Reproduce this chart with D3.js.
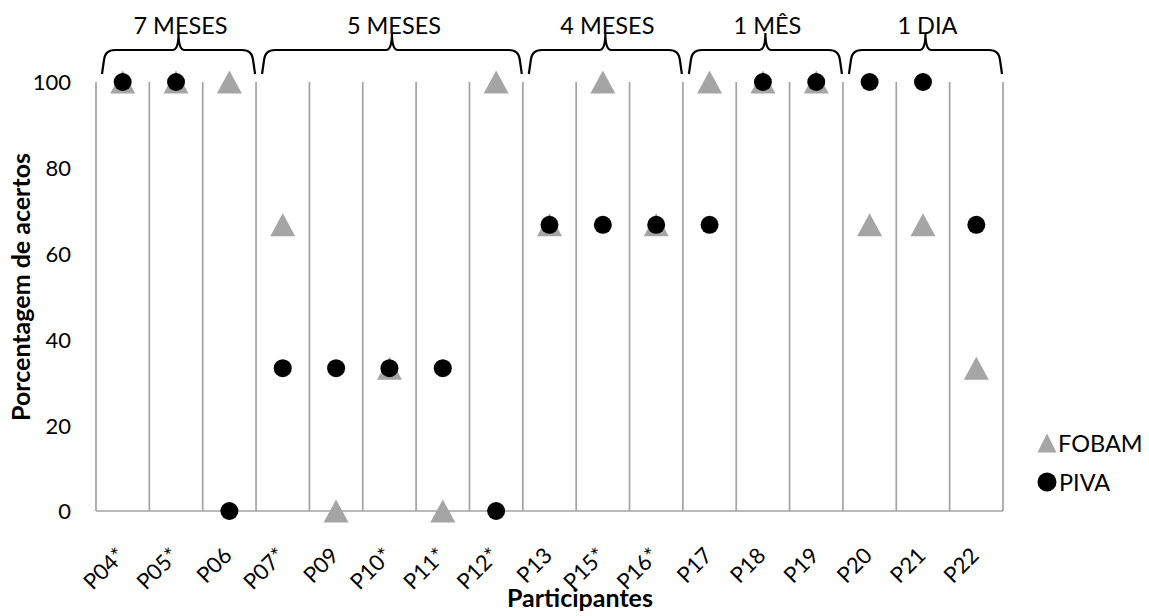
<!DOCTYPE html>
<html><head><meta charset="utf-8">
<script src="https://cdn.jsdelivr.net/npm/d3@7"></script>
<style>body{margin:0;background:#fff;} svg{display:block;} text{font-family:Lato, "Open Sans", sans-serif;}</style>
</head><body><svg id="c" width="1149" height="616"></svg>
<script>
const categories = ["P04*","P05*","P06","P07*","P09","P10*","P11*","P12*","P13","P15*","P16*","P17","P18","P19","P20","P21","P22"];
const fobam = [100,100,100,66.7,0,33.3,0,100,66.7,100,66.7,100,100,100,66.7,66.7,33.3];
const piva  = [100,100,0,33.3,33.3,33.3,33.3,0,66.7,66.7,66.7,66.7,100,100,100,100,66.7];
const yTicks = [0,20,40,60,80,100];
const groupLabels = ["7 MESES","5 MESES","4 MESES","1 MÊS","1 DIA"];
const groupStart = ["P04*","P07*","P13","P17","P20"];
const groupEnd   = ["P06","P12*","P16*","P19","P22"];
const seriesNames = ["FOBAM","PIVA"];

const svg = d3.select("#c");
const x = d3.scaleBand().domain(categories).range([96,1003]);
const y = d3.scaleLinear().domain([0,100]).range([511,82]);
const gray = "#a3a3a3", tri = "#a5a5a5";

// triangle marker, bounding-box centred
function triangle(w, h) {
  const p = d3.path();
  p.moveTo(0, -h/2); p.lineTo(w/2, h/2); p.lineTo(-w/2, h/2); p.closePath();
  return p.toString();
}

// vertical grid lines at band boundaries
const bounds = categories.map(c => x(c)).concat([x.range()[1]]);
svg.append("g").selectAll("line").data(bounds).join("line")
  .attr("x1", d=>d).attr("x2", d=>d).attr("y1", y(100)).attr("y2", y(0))
  .attr("stroke", gray).attr("stroke-width", 1.7);
svg.append("line").attr("x1", x.range()[0]).attr("x2", x.range()[1])
  .attr("y1", y(0)).attr("y2", y(0)).attr("stroke", gray).attr("stroke-width", 1.7);

// y axis labels
const yAxis = d3.axisLeft(y).tickValues(yTicks).tickSize(0).tickPadding(0);
const ya = svg.append("g").attr("transform", "translate(71,0)").call(yAxis);
ya.select(".domain").remove();
ya.selectAll("text").attr("font-size", 22).attr("fill", "#000").attr("font-family", "Lato").attr("dy", "0.36em");

// x axis labels
const xAxis = d3.axisBottom(x).tickSize(0).tickPadding(0);
const xa = svg.append("g").attr("transform", `translate(0,${y(0)})`).call(xAxis);
xa.select(".domain").remove();
xa.selectAll("text").attr("font-size", 22).attr("fill", "#000").attr("font-family", "Lato")
  .attr("text-anchor", "end").attr("dy", 0)
  .attr("transform", "translate(4,46) rotate(-45)");

// axis titles
svg.append("text").attr("x", 580).attr("y", 607).attr("text-anchor", "middle")
  .attr("font-size", 25).attr("font-weight", "bold").text("Participantes");
svg.append("text").attr("transform", "translate(30,287) rotate(-90)").attr("text-anchor", "middle")
  .attr("font-size", 25).attr("font-weight", "bold").text("Porcentagem de acertos");

// markers
svg.append("g").selectAll("path").data(categories).join("path")
  .attr("d", triangle(25, 23))
  .attr("transform", (c,i) => `translate(${x(c)+x.bandwidth()/2},${y(fobam[i])})`)
  .attr("fill", tri);
svg.append("g").selectAll("circle").data(categories).join("circle")
  .attr("cx", c => x(c)+x.bandwidth()/2).attr("cy", (c,i) => y(piva[i])).attr("r", 9)
  .attr("fill", "#000");

// braces
const yEnd = 74, yH = 50, yPk = 33, r = 10, r2 = 6;
groupLabels.forEach((lab, i) => {
  const x1 = x(groupStart[i]) + 6, x2 = x(groupEnd[i]) + x.bandwidth() - 1;
  const xm = (x1 + x2) / 2;
  const p = d3.path();
  p.moveTo(x1, yEnd);
  p.lineTo(x1+2, yH + r);
  p.quadraticCurveTo(x1+3, yH, x1 + r + 3, yH);
  p.lineTo(xm - r2, yH);
  p.quadraticCurveTo(xm, yH, xm, yPk);
  p.quadraticCurveTo(xm, yH, xm + r2, yH);
  p.lineTo(x2 - r - 3, yH);
  p.quadraticCurveTo(x2-3, yH, x2-2, yH + r);
  p.lineTo(x2, yEnd);
  svg.append("path").attr("d", p.toString()).attr("fill", "none")
    .attr("stroke", "#000").attr("stroke-width", 2.2);
  svg.append("text").attr("x", xm + 2).attr("y", 34).attr("text-anchor", "middle")
    .attr("font-size", 23.5).attr("fill", "#000").text(lab);
});

// legend
const lg = svg.append("g");
lg.append("path").attr("d", triangle(19, 19))
  .attr("transform", "translate(1047,443)").attr("fill", tri);
lg.append("text").attr("x", 1058).attr("y", 452).attr("font-size", 23.5).text(seriesNames[0]);
lg.append("circle").attr("cx", 1047).attr("cy", 482).attr("r", 9.5).attr("fill", "#000");
lg.append("text").attr("x", 1059).attr("y", 491).attr("font-size", 23.5).text(seriesNames[1]);
</script></body></html>
